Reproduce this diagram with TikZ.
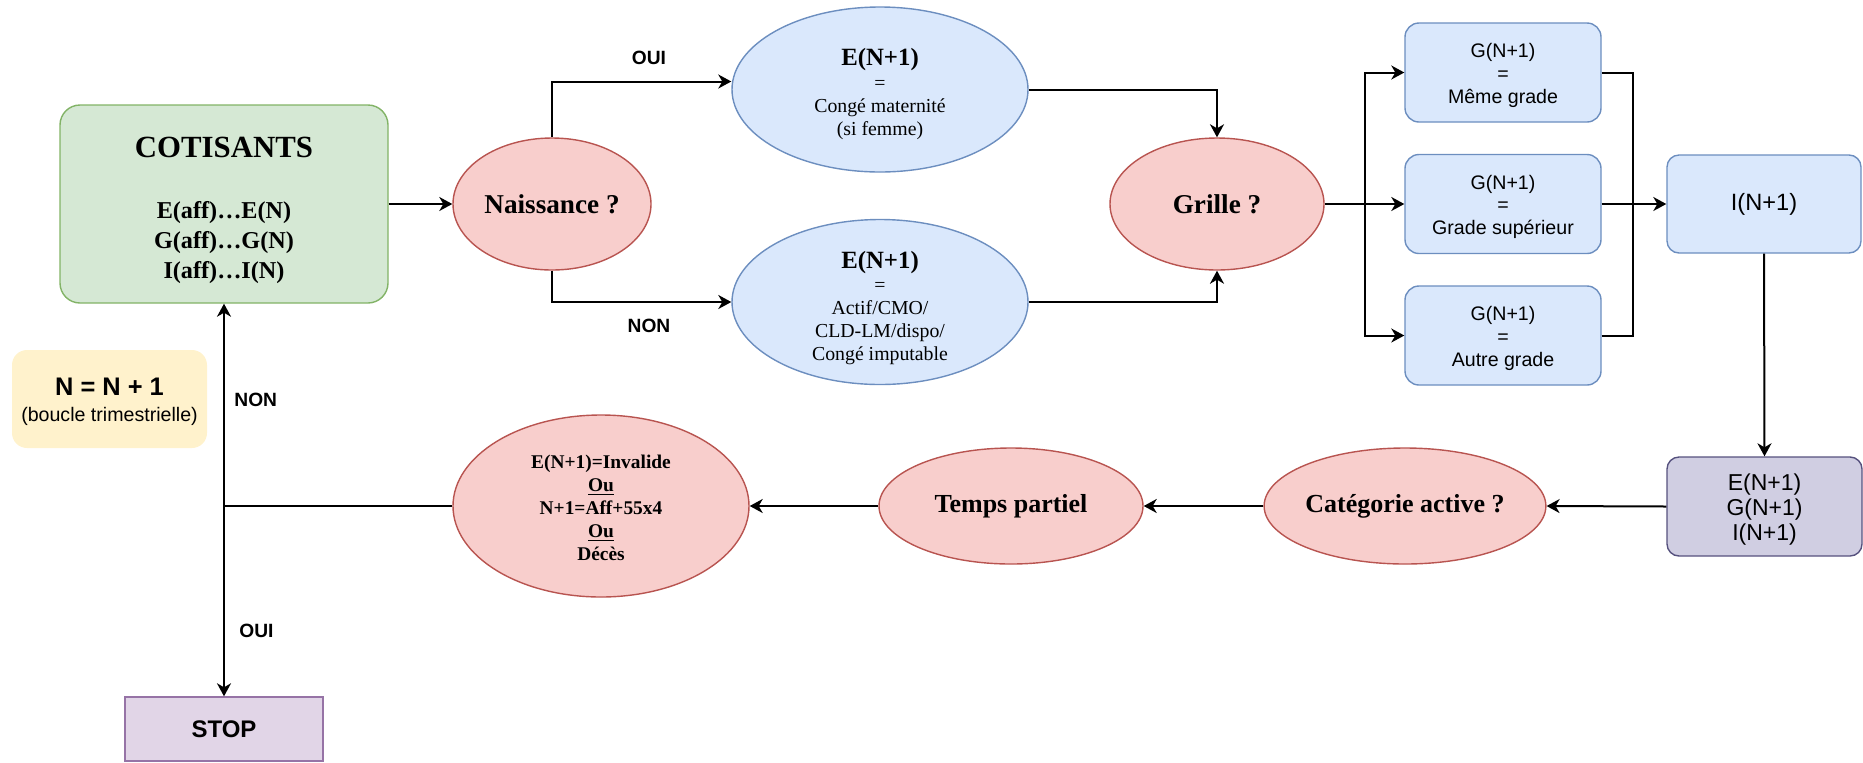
\documentclass[tikz,border=0pt]{standalone}
\usepackage{fontspec}
\setmainfont{Liberation Serif}
\newfontfamily\arial{Liberation Sans}
\usetikzlibrary{shapes.geometric,arrows.meta,calc}
\definecolor{grF}{HTML}{D5E8D4}\definecolor{grS}{HTML}{82B366}
\definecolor{rdF}{HTML}{F8CECC}\definecolor{rdS}{HTML}{B85450}
\definecolor{blF}{HTML}{DAE8FC}\definecolor{blS}{HTML}{6C8EBF}
\definecolor{ylF}{HTML}{FFF2CC}
\definecolor{puF}{HTML}{E1D5E7}\definecolor{puS}{HTML}{9673A6}
\definecolor{viF}{HTML}{D0CEE2}\definecolor{viS}{HTML}{56517E}
\begin{document}
\begin{tikzpicture}[x=0.5pt,y=-0.5pt,
  conn/.style={line width=1pt,-{Stealth[length=6.5pt,width=7pt,inset=2pt]}},
  plain/.style={line width=1pt},
  redell/.style={ellipse,draw=rdS,fill=rdF,line width=0.7pt,inner sep=0},
  blueell/.style={ellipse,draw=blS,fill=blF,line width=0.7pt,inner sep=0},
  gbox/.style={rectangle,rounded corners=7pt,draw=blS,fill=blF,line width=0.7pt,inner sep=0,minimum width=98pt,minimum height=49.5pt},
  txt/.style={inner sep=0,anchor=base},
  serbig/.style={font=\fontsize{13.6}{16}\selectfont\bfseries},
  serrow/.style={font=\fontsize{13}{15}\selectfont\bfseries},
  sertitle/.style={font=\fontsize{12.4}{14}\selectfont\bfseries},
  sersmall/.style={font=\fontsize{9.9}{12}\selectfont},
  sansg/.style={font=\arial\fontsize{9.8}{12}\selectfont},
  lab/.style={font=\arial\fontsize{9.6}{11}\selectfont\bfseries,inner sep=0}
]
\useasboundingbox (0,0) rectangle (1863,762);

% COTISANTS
\node[rectangle,rounded corners=10pt,draw=grS,fill=grF,line width=0.7pt,inner sep=0,minimum width=164pt,minimum height=99pt] (cot) at (224,204) {};
\node[txt,font=\fontsize{15.4}{18}\selectfont\bfseries] (cotT) at (224,157) {COTISANTS};
\node[txt,font=\fontsize{12.1}{14}\selectfont\bfseries] (cot1) at (224,218) {E(aff)…E(N)};
\node[txt,font=\fontsize{12.1}{14}\selectfont\bfseries] (cot2) at (224,248) {G(aff)…G(N)};
\node[txt,font=\fontsize{12.1}{14}\selectfont\bfseries] (cot3) at (224,278) {I(aff)…I(N)};

% Naissance
\node[redell,serbig,minimum width=99pt,minimum height=66pt] (nais) at (552,204) {Naissance ?};

% top ellipse
\node[blueell,minimum width=148pt,minimum height=82.5pt] (top) at (880,89.5) {};
\node[txt,sertitle] (topA) at (880,65) {E(N+1)};
\node[txt,sersmall] (topB) at (880,89) {=};
\node[txt,sersmall] (topC) at (880,112) {Congé maternité};
\node[txt,sersmall] (topD) at (880,135) {(si femme)};

% bottom ellipse
\node[blueell,minimum width=148pt,minimum height=82.5pt] (bot) at (880,302) {};
\node[txt,sertitle] (botA) at (880,268) {E(N+1)};
\node[txt,sersmall] (botB) at (880,291) {=};
\node[txt,sersmall] (botC) at (880,314) {Actif/CMO/};
\node[txt,sersmall] (botD) at (880,337) {CLD-LM/dispo/};
\node[txt,sersmall] (botE) at (880,360) {Congé imputable};

% Grille
\node[redell,serbig,minimum width=107pt,minimum height=66pt] (gri) at (1217,204) {Grille ?};

% G boxes
\node[gbox] (g1) at (1503,72.5) {};
\node[txt,sansg] (g1a) at (1503,57.5) {G(N+1)};
\node[txt,sansg] (g1b) at (1503,80) {=};
\node[txt,sansg] (g1c) at (1503,103) {Même grade};
\node[gbox] (g2) at (1503,204) {};
\node[txt,sansg] (g2a) at (1503,189) {G(N+1)};
\node[txt,sansg] (g2b) at (1503,211.5) {=};
\node[txt,sansg] (g2c) at (1503,234.5) {Grade supérieur};
\node[gbox] (g3) at (1503,335.5) {};
\node[txt,sansg] (g3a) at (1503,320.5) {G(N+1)};
\node[txt,sansg] (g3b) at (1503,343) {=};
\node[txt,sansg] (g3c) at (1503,366) {Autre grade};

% I box
\node[rectangle,rounded corners=6pt,draw=blS,fill=blF,line width=0.7pt,inner sep=0,minimum width=97pt,minimum height=49pt,font=\arial\fontsize{11.8}{14}\selectfont] (ibox) at (1764,204) {I(N+1)};

% result box
\node[rectangle,rounded corners=6pt,draw=viS,fill=viF,line width=0.7pt,inner sep=0,minimum width=97.5pt,minimum height=49.5pt] (res) at (1764.5,506.5) {};
\node[txt,font=\arial\fontsize{11.5}{14}\selectfont] (resA) at (1764.5,490) {E(N+1)};
\node[txt,font=\arial\fontsize{11.5}{14}\selectfont] (resB) at (1764.5,515) {G(N+1)};
\node[txt,font=\arial\fontsize{11.5}{14}\selectfont] (resC) at (1764.5,540) {I(N+1)};

% bottom row
\node[redell,serrow,minimum width=132pt,minimum height=58pt] (cat) at (1405,506) {Catégorie active ?};
\node[redell,serrow,minimum width=132pt,minimum height=58pt] (temps) at (1011,506) {Temps partiel};
\node[redell,minimum width=148pt,minimum height=91pt] (inv) at (601,506) {};
\node[txt,font=\fontsize{9.7}{12}\selectfont\bfseries] (invA) at (601,468) {E(N+1)=Invalide};
\node[txt,font=\fontsize{9.7}{12}\selectfont\bfseries] (invB) at (601,491) {\underline{Ou}};
\node[txt,font=\fontsize{9.7}{12}\selectfont\bfseries] (invC) at (601,514) {N+1=Aff+55x4};
\node[txt,font=\fontsize{9.7}{12}\selectfont\bfseries] (invD) at (601,537) {\underline{Ou}};
\node[txt,font=\fontsize{9.7}{12}\selectfont\bfseries] (invE) at (601,560) {Décès};

% loop note
\node[rectangle,rounded corners=7.5pt,fill=ylF,inner sep=0,minimum width=97.5pt,minimum height=49pt] (loop) at (109.5,399) {};
\node[txt,font=\arial\fontsize{12.7}{15}\selectfont\bfseries] (loopA) at (109.5,395) {N = N + 1};
\node[txt,font=\arial\fontsize{9.8}{12}\selectfont] (loopB) at (109.5,421) {(boucle trimestrielle)};

% STOP
\node[rectangle,draw=puS,fill=puF,line width=0.7pt,inner sep=0,minimum width=99pt,minimum height=32pt,font=\arial\fontsize{12}{14}\selectfont\bfseries] (stop) at (224,729) {STOP};

% connectors
\draw[conn] (cot.east) -- (nais.west);
\draw[conn] (nais.north) |- ($(top.west)+(0,-8)$);
\node[lab] (oui1) at (649,58) {OUI};
\draw[conn] (nais.south) |- (bot.west);
\node[lab] (non1) at (649,326) {NON};
\draw[conn] (top.east) -| (gri.north);
\draw[conn] (bot.east) -| (gri.south);
\coordinate (br) at (1365,204);
\draw[plain] (gri.east) -- (br);
\draw[conn] (br) |- (g1.west);
\draw[conn] (br) -- (g2.west);
\draw[conn] (br) |- (g3.west);
\coordinate (mg) at (1633,204);
\draw[plain] (g1.east) -| (mg);
\draw[plain] (g3.east) -| (mg);
\draw[conn] (g2.east) -- (ibox.west);
\draw[conn] (ibox.south) -- (res.north);
\draw[conn] (res.west) -- (cat.east);
\draw[conn] (cat.west) -- (temps.east);
\draw[conn] (temps.west) -- (inv.east);
\coordinate (jn) at (224,506);
\draw[plain] (inv.west) -- (jn);
\draw[conn] (jn) -- (cot.south);
\draw[conn] (jn) -- (stop.north);
\node[lab,anchor=west] (non2) at (234,400) {NON};
\node[lab,anchor=west] (oui2) at (239,631) {OUI};
\end{tikzpicture}
\end{document}
